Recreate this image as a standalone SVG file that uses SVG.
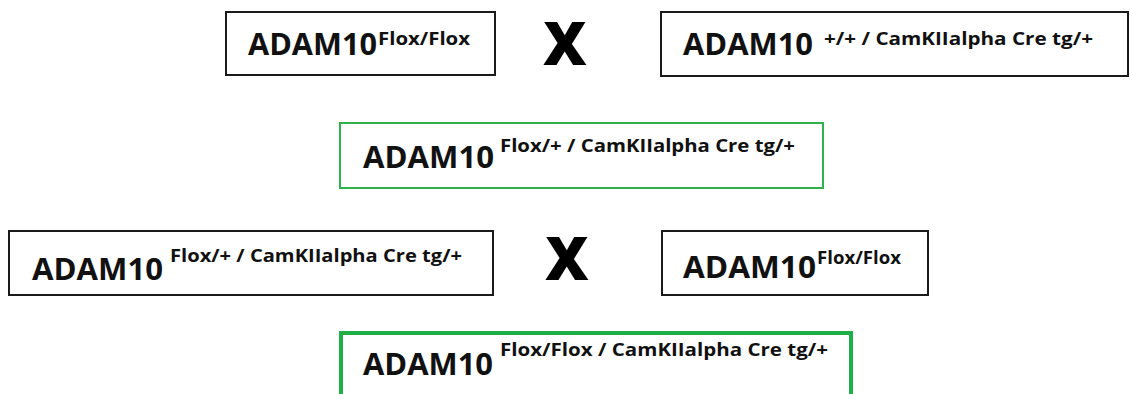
<svg xmlns="http://www.w3.org/2000/svg" width="1130" height="394" viewBox="0 0 1130 394">
<style>
.box{fill:#fff;stroke:#1a1a1a;stroke-width:2}
.gbox{fill:#fff;stroke:#2db34a;stroke-width:2}
.gbox2{fill:#fff;stroke:#1fae48;stroke-width:4}
.main{font-family:"Open Sans","Liberation Sans",sans-serif;font-weight:bold;font-size:31px;fill:#111}
.sup{font-family:"Open Sans","Liberation Sans",sans-serif;font-weight:bold;font-size:18px;fill:#111}
.x{font-family:"Open Sans","Liberation Sans",sans-serif;font-weight:800;font-size:60px;fill:#000;text-anchor:middle}
</style>
<rect width="1130" height="394" fill="#fff"/>
<g id="parent1">
<rect class="box" x="226" y="12" width="269" height="63"/>
<text class="main" x="248" y="55" textLength="129" lengthAdjust="spacingAndGlyphs">ADAM10</text>
<text class="sup" x="378" y="45" textLength="92" lengthAdjust="spacingAndGlyphs">Flox/Flox</text>
</g>
<g id="cross1"><text class="x" x="565" y="65">X</text></g>
<g id="parent2">
<rect class="box" x="661" y="12" width="467" height="64"/>
<text class="main" x="683" y="55" textLength="130" lengthAdjust="spacingAndGlyphs">ADAM10</text>
<text class="sup" x="824" y="45" textLength="269" lengthAdjust="spacingAndGlyphs">+/+ / CamKIIalpha Cre tg/+</text>
</g>
<g id="offspring1">
<rect class="gbox" x="340" y="123" width="483" height="65"/>
<text class="main" x="363" y="168" textLength="131" lengthAdjust="spacingAndGlyphs">ADAM10</text>
<text class="sup" x="500" y="152" textLength="295" lengthAdjust="spacingAndGlyphs">Flox/+ / CamKIIalpha Cre tg/+</text>
</g>
<g id="parent3">
<rect class="box" x="9" y="231" width="484" height="64"/>
<text class="main" x="32" y="280" textLength="131" lengthAdjust="spacingAndGlyphs">ADAM10</text>
<text class="sup" x="170" y="262" textLength="292" lengthAdjust="spacingAndGlyphs">Flox/+ / CamKIIalpha  Cre tg/+</text>
</g>
<g id="cross2"><text class="x" x="567" y="280">X</text></g>
<g id="parent4">
<rect class="box" x="662" y="231" width="266" height="64"/>
<text class="main" x="683" y="278" textLength="133" lengthAdjust="spacingAndGlyphs">ADAM10</text>
<text class="sup" x="817" y="264" textLength="84" lengthAdjust="spacingAndGlyphs">Flox/Flox</text>
</g>
<g id="offspring2">
<rect class="gbox2" x="341" y="333" width="510" height="70"/>
<text class="main" x="363" y="375" textLength="130" lengthAdjust="spacingAndGlyphs">ADAM10</text>
<text class="sup" x="500" y="356" textLength="328" lengthAdjust="spacingAndGlyphs">Flox/Flox / CamKIIalpha  Cre tg/+</text>
</g>
<g id="connectors"></g>
</svg>
